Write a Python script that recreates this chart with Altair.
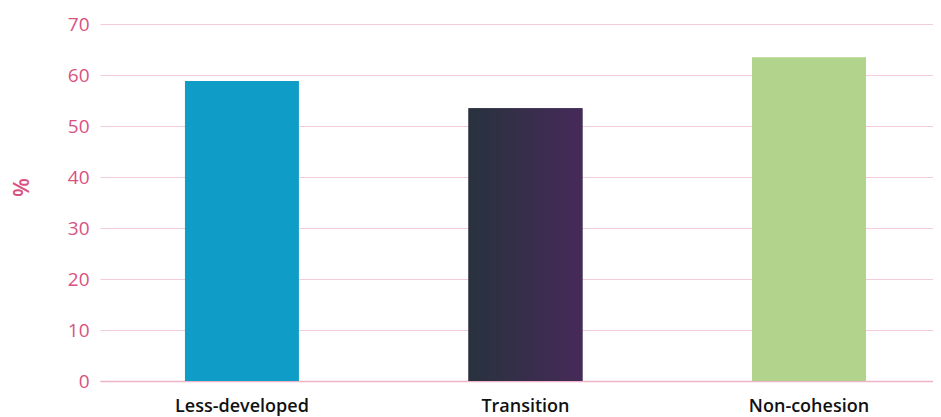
import altair as alt
import pandas as pd

categories = ["Less-developed", "Transition", "Non-cohesion"]
values = [58.8, 53.5, 63.5]
colors = ["#0f9dc8", "#2f2f45", "#b2d38b"]

df = pd.DataFrame({"region": categories, "value": values})

pink = "#d9527f"

x_enc = alt.X(
    "region:N",
    sort=categories,
    title=None,
    scale=alt.Scale(paddingInner=0.598, paddingOuter=0.268, align=0.559),
    axis=alt.Axis(
        labelAngle=0,
        labelFont="Open Sans",
        labelFontSize=18,
        labelFontWeight=600,
        labelColor="#111111",
        labelBaseline="alphabetic",
        labelPadding=30,
        ticks=False,
        tickSize=0,
        domain=True,
        domainColor="#eeb3c7",
        domainWidth=1.5,
        grid=False,
    ),
)

y_enc = alt.Y(
    "value:Q",
    title="%",
    scale=alt.Scale(domain=[0, 70], nice=False),
    axis=alt.Axis(
        values=[0, 10, 20, 30, 40, 50, 60, 70],
        labelFont="Open Sans",
        labelFontSize=19,
        labelColor=pink,
        labelPadding=11,
        ticks=False,
        tickSize=0,
        domain=False,
        grid=True,
        gridColor="#f4cbd9",
        gridWidth=1,
        titleFont="Open Sans",
        titleFontSize=22,
        titleColor=pink,
        titleFontWeight=600,
        titleAngle=-90,
        titleAlign="center",
        titleBaseline="middle",
        titleX=-79,
        titleY=163,
    ),
)

base = alt.Chart(df).mark_bar().encode(
    x=x_enc,
    y=y_enc,
    color=alt.Color(
        "region:N",
        scale=alt.Scale(domain=categories, range=colors),
        legend=None,
    ),
)

grad = alt.Chart(df).transform_filter(
    alt.datum.region == "Transition"
).mark_bar(
    color=alt.Gradient(
        gradient="linear",
        x1=0, x2=1, y1=0, y2=0,
        stops=[
            alt.GradientStop(color="#28323d", offset=0),
            alt.GradientStop(color="#462a59", offset=1),
        ],
    )
).encode(x=x_enc, y=y_enc)

chart = alt.layer(base, grad).properties(
    width=833,
    height=357,
    autosize=alt.AutoSizeParams(type="none"),
    padding={"left": 92, "top": 16, "right": 0, "bottom": 36},
).configure_view(strokeWidth=0)

chart.save("out.html", embed_options={"renderer": "svg", "actions": False})
